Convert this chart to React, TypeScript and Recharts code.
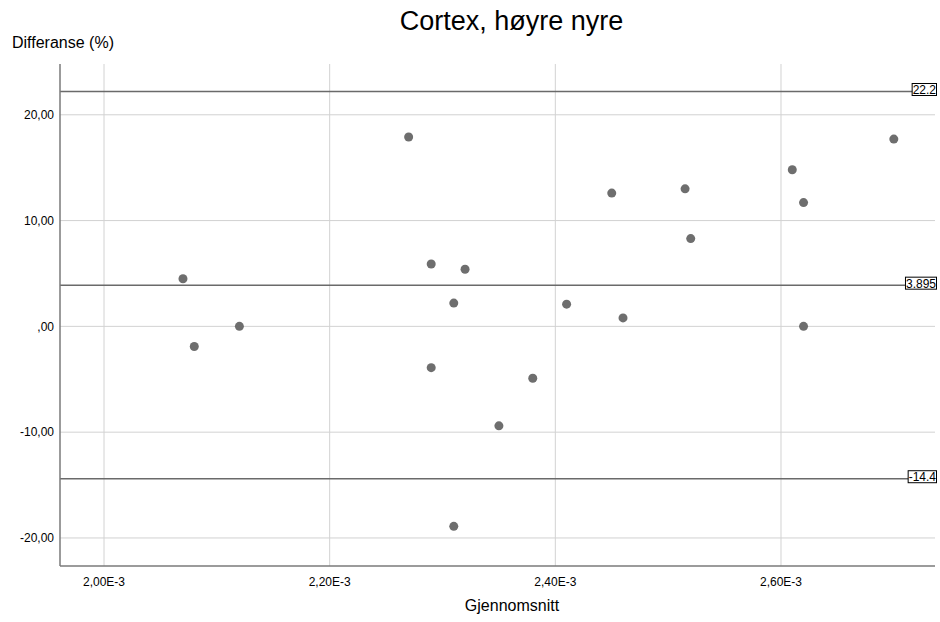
import {
  ScatterChart,
  Scatter,
  XAxis,
  YAxis,
  CartesianGrid,
  ReferenceLine,
} from "recharts";

const meanValues = [
  0.00207, 0.00208, 0.00212, 0.00227, 0.00229, 0.00232, 0.00231, 0.00229, 0.00238, 0.00235,
  0.00231, 0.00241, 0.00245, 0.00246, 0.002515, 0.00252, 0.00261, 0.00262, 0.00262, 0.0027,
];
const diffValues = [
  4.5, -1.9, 0, 17.9, 5.9, 5.4, 2.2, -3.9, -4.9, -9.4,
  -18.9, 2.1, 12.6, 0.8, 13.0, 8.3, 14.8, 11.7, 0, 17.7,
];
const xTicks = [0.002, 0.0022, 0.0024, 0.0026];
const yTicks = [-20, -10, 0, 10, 20];
const refValues = [22.2, 3.895, -14.4];
const refLabels = ["22.2", "3.895", "-14.4"];

const points = meanValues.map((m, i) => ({ x: m, y: diffValues[i] }));

const font = "'Liberation Sans', Arial, sans-serif";

const fmtY = (v: number) => (v === 0 ? ",00" : v.toFixed(2).replace(".", ","));
const fmtX = (v: number) => (v * 1000).toFixed(2).replace(".", ",") + "E-3";

// rough Arial widths, to size the label boxes
const charW = (c: string) => (c === "." ? 0.278 : c === "-" ? 0.333 : 0.556);

const Dot = (props: any) => (
  <circle cx={props.cx} cy={props.cy} r={4.5} fill="#6e6e6e" />
);

const boxLabel = (text: string) => (props: any) => {
  const vb = props.viewBox;
  const right = vb.x + vb.width + 1.5;
  const w = text.split("").reduce((s, c) => s + charW(c), 0) * 12 + 1;
  return (
    <g>
      <rect x={right - w} y={vb.y - 8} width={w} height={12} fill="#fff" stroke="#000" strokeWidth={1} />
      <text x={right - 0.5} y={vb.y + 2.5} textAnchor="end" fontSize={12} fontFamily={font} fill="#000">
        {text}
      </text>
    </g>
  );
};

export default function App() {
  return (
    <div style={{ position: "absolute", left: 0, top: 0, width: 940, height: 622, background: "#fff" }}>
      <div
        style={{
          position: "absolute",
          left: 0,
          top: 8,
          width: 1023,
          textAlign: "center",
          fontFamily: font,
          fontSize: 27,
          lineHeight: "27px",
          color: "#000",
        }}
      >
        Cortex, høyre nyre
      </div>
      <ScatterChart width={940} height={622} margin={{ top: 64, right: 5, bottom: 0, left: 0 }}>
        <CartesianGrid
          stroke="#d2d2d2"
          strokeWidth={1}
          horizontalValues={yTicks}
          verticalValues={xTicks}
        />
        <XAxis
          type="number"
          dataKey="x"
          domain={[0.001961, 0.0027365]}
          ticks={xTicks}
          tickFormatter={fmtX}
          height={56}
          tickLine={false}
          tickSize={9}
          axisLine={{ stroke: "#7a7a7a", strokeWidth: 1.5 }}
          tick={{ fontSize: 12, fill: "#000", fontFamily: font }}
          allowDataOverflow
          label={() => (
            <text x={512} y={611} textAnchor="middle" fontSize={16} fontFamily={font} fill="#000">
              Gjennomsnitt
            </text>
          )}
        />
        <YAxis
          type="number"
          dataKey="y"
          domain={[-22.65, 24.8]}
          ticks={yTicks}
          tickFormatter={fmtY}
          width={60}
          tickLine={false}
          tickSize={4}
          axisLine={{ stroke: "#7a7a7a", strokeWidth: 1.5 }}
          tick={{ fontSize: 12, fill: "#000", fontFamily: font }}
          allowDataOverflow
          label={() => (
            <text x={12} y={48} textAnchor="start" fontSize={16} fontFamily={font} fill="#000">
              Differanse (%)
            </text>
          )}
        />
        {refValues.map((v, i) => (
          <ReferenceLine
            key={i}
            y={v}
            stroke="#6a6a6a"
            strokeWidth={1.5}
            label={boxLabel(refLabels[i])}
          />
        ))}
        <Scatter data={points} shape={Dot} isAnimationActive={false} />
      </ScatterChart>
    </div>
  );
}
